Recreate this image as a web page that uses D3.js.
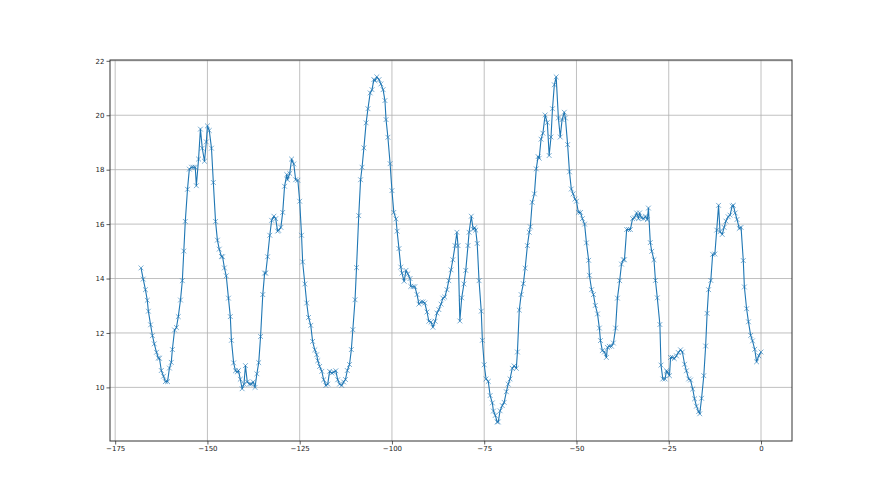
<!DOCTYPE html>
<html>
<head>
<meta charset="utf-8">
<script src="https://cdn.jsdelivr.net/npm/d3@7/dist/d3.min.js"></script>
<style>
  html, body { margin: 0; padding: 0; background: #fff; }
  svg { display: block; }
  .tick text { font-family: "DejaVu Sans", sans-serif; }
</style>
</head>
<body>
<svg id="chart" width="880" height="495"></svg>
<script>
const xValues = [
-168.0,-167.4,-166.8,-166.3,-166.0,-165.4,-164.9,-164.4,-163.8,-163.3,-163.0,-162.5,-161.9,-161.4,-160.8,-160.3,-159.8,-159.5,-158.9,-158.4,
-157.9,-157.3,-156.8,-156.4,-156.0,-155.4,-154.9,-154.3,-153.8,-153.3,-153.0,-152.4,-151.9,-151.4,-150.8,-150.3,-150.0,-149.5,-148.9,-148.4,
-147.8,-147.3,-146.8,-146.2,-145.9,-145.4,-144.9,-144.3,-143.8,-143.5,-142.9,-142.4,-141.9,-141.6,-141.1,-140.6,-140.1,-139.7,-139.2,-138.6,
-138.1,-137.6,-137.1,-136.6,-136.1,-135.6,-135.0,-134.5,-134.2,-133.7,-133.1,-132.6,-132.0,-131.5,-131.0,-130.7,-130.1,-129.6,-129.1,-128.5,
-128.3,-127.7,-127.2,-126.6,-126.1,-125.5,-125.0,-124.5,-124.2,-123.6,-123.1,-122.6,-122.0,-121.5,-120.9,-120.4,-120.1,-119.6,-119.0,-118.5,
-117.9,-117.4,-116.9,-116.3,-115.8,-115.2,-114.7,-114.2,-113.6,-113.1,-112.6,-112.1,-111.5,-111.0,-110.6,-110.0,-109.6,-109.0,-108.5,-108.1,
-107.6,-107.0,-106.5,-105.9,-105.4,-104.9,-104.6,-104.1,-103.5,-103.0,-102.4,-101.9,-101.6,-101.1,-100.5,-100.0,-99.5,-98.9,-98.6,-98.1,
-97.6,-97.3,-96.7,-96.2,-95.7,-95.1,-94.9,-94.3,-93.8,-93.2,-92.7,-92.1,-91.6,-91.1,-90.5,-90.0,-89.4,-88.9,-88.3,-87.8,
-87.3,-86.7,-86.2,-85.7,-85.1,-84.6,-84.0,-83.5,-82.9,-82.4,-82.1,-81.6,-81.1,-80.5,-80.0,-79.4,-79.1,-78.5,-78.0,-77.6,
-77.3,-76.9,-76.4,-75.8,-75.5,-75.0,-74.5,-73.9,-73.4,-72.8,-72.5,-72.0,-71.5,-71.2,-70.7,-70.1,-69.6,-69.0,-68.5,-68.0,
-67.4,-66.9,-66.3,-66.0,-65.5,-65.0,-64.4,-63.9,-63.3,-62.8,-62.5,-62.0,-61.4,-60.9,-60.4,-60.1,-59.6,-59.1,-58.5,-57.9,
-57.4,-56.9,-56.5,-56.0,-55.5,-54.9,-54.4,-53.9,-53.3,-53.0,-52.4,-51.9,-51.4,-50.9,-50.4,-50.0,-49.5,-48.9,-48.4,-47.8,
-47.3,-46.7,-46.5,-45.9,-45.4,-44.9,-44.3,-43.8,-43.5,-43.0,-42.4,-41.9,-41.6,-41.1,-40.5,-40.0,-39.4,-38.9,-38.3,-37.8,
-37.3,-37.0,-36.4,-35.9,-35.4,-34.8,-34.3,-33.7,-33.2,-32.9,-32.4,-31.8,-31.3,-30.8,-30.5,-30.0,-29.6,-29.0,-28.6,-28.1,
-27.4,-27.1,-26.6,-26.0,-25.6,-25.4,-24.8,-24.5,-24.0,-23.5,-22.9,-22.4,-21.8,-21.3,-20.7,-20.2,-19.6,-19.1,-18.5,-18.0,
-17.5,-16.9,-16.6,-16.1,-15.5,-15.0,-14.6,-14.2,-13.6,-13.1,-12.5,-12.0,-11.5,-11.1,-10.5,-10.0,-9.5,-8.9,-8.4,-7.8,
-7.5,-7.0,-6.5,-5.9,-5.4,-4.8,-4.5,-3.9,-3.4,-2.8,-2.3,-1.7,-1.2,-0.6,0.0
];
const yValues = [
14.39,13.98,13.59,13.20,12.80,12.30,11.90,11.60,11.29,11.08,11.07,10.62,10.41,10.21,10.21,10.71,10.92,11.39,12.11,12.20,
12.60,13.21,13.92,15.01,16.10,17.28,18.02,18.09,18.09,18.09,17.41,18.39,19.49,18.79,18.31,19.02,19.61,19.44,18.79,17.53,
16.10,15.41,15.08,14.81,14.80,14.39,14.10,13.28,12.60,11.73,10.90,10.61,10.57,10.62,10.30,9.95,10.12,10.80,10.20,10.12,
10.12,10.20,10.00,10.50,10.91,11.87,13.41,14.20,14.20,14.80,15.59,16.14,16.29,16.20,15.74,15.77,15.88,16.43,17.39,17.82,
17.63,17.86,18.39,18.21,17.63,17.61,16.84,15.59,14.61,13.80,13.10,12.57,12.28,11.69,11.38,11.20,10.98,10.77,10.59,10.28,
10.07,10.12,10.59,10.53,10.56,10.61,10.28,10.12,10.07,10.20,10.29,10.62,10.84,11.39,12.12,13.22,14.40,16.31,17.63,18.09,
18.80,19.72,20.24,20.82,20.94,21.31,21.27,21.41,21.31,21.15,20.94,20.54,19.84,19.19,18.22,17.23,16.43,16.19,15.74,15.10,
14.42,14.20,13.90,14.30,14.17,14.00,13.71,13.70,13.70,13.41,13.06,13.14,13.14,13.10,12.77,12.43,12.40,12.21,12.43,12.73,
12.86,13.06,13.28,13.32,13.59,13.92,14.32,14.69,15.21,15.70,15.21,12.44,13.29,13.80,14.30,15.21,15.70,16.29,15.81,15.87,
15.78,15.29,13.92,12.80,11.73,10.83,10.31,10.22,9.70,9.43,9.13,8.97,8.73,8.73,9.14,9.33,9.45,9.84,10.12,10.31,
10.70,10.79,10.70,11.30,12.84,13.41,13.81,14.38,15.21,15.70,15.90,16.80,17.11,18.03,18.48,18.42,19.12,19.34,20.01,19.73,
18.52,19.20,20.24,21.12,21.41,19.90,19.20,19.84,20.11,19.90,18.92,17.92,17.29,17.11,16.92,16.84,16.43,16.43,16.20,16.00,
15.31,14.67,14.12,13.59,13.41,13.01,12.70,12.18,11.72,11.35,11.30,11.10,11.47,11.51,11.51,11.63,12.18,13.28,13.92,14.53,
14.69,14.69,15.80,15.80,15.80,16.20,16.23,16.41,16.20,16.41,16.23,16.20,16.29,16.16,16.59,15.32,15.00,14.69,13.93,13.29,
12.31,10.82,10.31,10.31,10.61,10.57,10.43,11.10,11.10,11.06,11.16,11.28,11.38,11.30,10.85,10.61,10.31,10.27,9.94,9.58,
9.31,9.11,9.03,9.60,10.43,11.52,12.72,13.59,13.93,14.89,14.90,15.78,16.69,15.72,15.62,15.88,16.11,16.27,16.33,16.66,
16.69,16.41,16.17,15.84,15.88,14.66,13.69,12.89,12.41,11.91,11.71,11.40,10.94,11.16,11.30
];
const xTicks = [-175, -150, -125, -100, -75, -50, -25, 0];
const yTicks = [10, 12, 14, 16, 18, 20, 22];

const data = xValues.map((v, i) => ({x: v, y: yValues[i]}));

const svg = d3.select("#chart");
const mLeft = 110, mRight = 792, mTop = 60, mBottom = 441;
const color = "#1f77b4";

const x = d3.scaleLinear().domain([-176.4, 8.4]).range([mLeft, mRight]);
const y = d3.scaleLinear().domain([8.03, 22.03]).range([mBottom, mTop]);

// grid
const grid = svg.append("g");
grid.selectAll("line.gx").data(xTicks).join("line")
  .attr("x1", d => x(d)).attr("x2", d => x(d))
  .attr("y1", mTop).attr("y2", mBottom)
  .attr("stroke", "#b0b0b0").attr("stroke-width", 0.8);
grid.selectAll("line.gy").data(yTicks).join("line")
  .attr("x1", mLeft).attr("x2", mRight)
  .attr("y1", d => y(d)).attr("y2", d => y(d))
  .attr("stroke", "#b0b0b0").attr("stroke-width", 0.8);

// line
const line = d3.line().x(d => x(d.x)).y(d => y(d.y));
svg.append("path").datum(data)
  .attr("d", line)
  .attr("fill", "none")
  .attr("stroke", color)
  .attr("stroke-width", 1.1)
  .attr("stroke-linejoin", "round");

// x markers
const m = 2.4;
svg.append("g").selectAll("path").data(data).join("path")
  .attr("d", d => {
    const cx = x(d.x), cy = y(d.y);
    return `M${cx - m},${cy - m}L${cx + m},${cy + m}M${cx - m},${cy + m}L${cx + m},${cy - m}`;
  })
  .attr("stroke", color)
  .attr("stroke-opacity", 0.6)
  .attr("stroke-width", 1)
  .attr("fill", "none");

// axes
const fmt = d => d < 0 ? "\u2212" + Math.abs(d) : String(d);
const xAxis = svg.append("g").attr("transform", `translate(0,${mBottom})`)
  .call(d3.axisBottom(x).tickValues(xTicks).tickFormat(fmt).tickSize(3.5).tickPadding(2));
const yAxis = svg.append("g").attr("transform", `translate(${mLeft},0)`)
  .call(d3.axisLeft(y).tickValues(yTicks).tickFormat(fmt).tickSize(3.5).tickPadding(2));
[xAxis, yAxis].forEach(g => {
  g.select(".domain").remove();
  g.selectAll(".tick line").attr("stroke", "#333").attr("stroke-width", 0.8);
  g.selectAll(".tick text").attr("fill", "#222").style("font-size", "7px");
});

// frame
svg.append("rect")
  .attr("x", mLeft).attr("y", mTop)
  .attr("width", mRight - mLeft).attr("height", mBottom - mTop)
  .attr("fill", "none").attr("stroke", "#333").attr("stroke-width", 1);
</script>
</body>
</html>
